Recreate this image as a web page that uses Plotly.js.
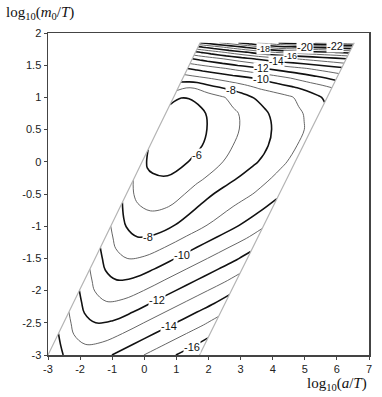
<!DOCTYPE html>
<html>
<head>
<meta charset="utf-8">
<script src="https://cdn.plot.ly/plotly-3.0.1.min.js"></script>
<style>
  html, body { margin: 0; padding: 0; background: #fff; }
  #chart { width: 382px; height: 397px; }
</style>
</head>
<body>
<div id="chart"></div>
<script>
// sheared sample grid: u runs across the band (left edge -> right edge), y is log10(m0/T)
const uVals = [0, 0.25, 0.5, 1, 1.5, 2, 2.5, 3, 3.5, 4, 4.4, 4.74];
const yVals = [-3, -2.5, -2, -1.5, -1, -0.5, -0.25, 0, 0.25, 0.5, 0.75, 1, 1.15, 1.3, 1.45, 1.6, 1.7, 1.78, 1.85];

// corners of the band
const leftEdgeX = [-3, 1.74];   // x at bottom, x at top
const rightEdgeX = [1.72, 6.54];

// levels, one row per yVals entry
const zGrid = [
  [-15.0, -14.45, -13.95, -13.5, -13.6, -14.0, -14.5, -15.0, -15.5, -16.0, -16.4, -16.8],
  [-13.5, -12.95, -12.45, -12.0, -12.1, -12.5, -13.0, -13.5, -14.0, -14.5, -14.9, -15.3],
  [-12.0, -11.45, -10.95, -10.5, -10.6, -11.0, -11.5, -12.0, -12.5, -13.0, -13.4, -13.8],
  [-10.5, -9.95, -9.45, -9.0, -9.1, -9.5, -10.0, -10.5, -11.0, -11.5, -11.9, -12.3],
  [-9.0, -8.45, -7.95, -7.5, -7.62, -8.05, -8.55, -9.05, -9.55, -10.05, -10.45, -10.9],
  [-7.65, -6.95, -6.6, -6.45, -6.6, -7.25, -7.8, -8.3, -8.65, -9.07, -9.45, -9.85],
  [-6.9, -6.5, -6.2, -6.07, -6.3, -6.82, -7.3, -7.8, -8.3, -8.75, -9.15, -9.5],
  [-6.38, -5.7, -5.5, -5.55, -6.08, -6.55, -7.0, -7.45, -7.9, -8.45, -8.9, -9.3],
  [-5.88, -5.5, -5.35, -5.4, -5.88, -6.4, -6.94, -7.4, -7.84, -8.35, -8.85, -9.2],
  [-5.7, -5.4, -5.3, -5.45, -5.98, -6.48, -6.98, -7.48, -7.98, -8.45, -8.85, -9.25],
  [-5.75, -5.55, -5.5, -5.75, -6.28, -6.75, -7.25, -7.82, -8.32, -8.77, -9.15, -9.55],
  [-6.2, -6.02, -6.05, -6.4, -6.9, -7.45, -8.05, -8.45, -8.8, -9.3, -9.8, -10.2],
  [-7.33, -7.02, -7.05, -7.7, -8.15, -8.6, -9.1, -9.45, -9.85, -10.3, -10.65, -11.0],
  [-8.45, -8.63, -8.8, -9.16, -9.52, -9.87, -10.26, -10.72, -11.17, -11.63, -11.99, -12.3],
  [-10.0, -10.21, -10.43, -10.85, -11.28, -11.7, -12.12, -12.5, -12.87, -13.25, -13.55, -13.8],
  [-12.0, -12.27, -12.53, -13.06, -13.6, -14.13, -14.6, -14.91, -15.22, -15.54, -15.79, -16.0],
  [-13.8, -14.14, -14.48, -15.16, -15.84, -16.52, -17.08, -17.34, -17.6, -17.86, -18.07, -18.25],
  [-15.75, -16.15, -16.55, -17.35, -18.14, -18.94, -19.58, -19.83, -20.08, -20.33, -20.53, -20.7],
  [-18.0, -18.43, -18.85, -19.7, -20.55, -21.4, -22.13, -22.55, -22.97, -23.38, -23.72, -24.0]
];

const xTickVals = [-3, -2, -1, 0, 1, 2, 3, 4, 5, 6, 7];
const xTickText = ['-3', '-2', '-1', '0', '1', '2', '3', '4', '5', '6', '7'];
const yTickVals = [-3, -2.5, -2, -1.5, -1, -0.5, 0, 0.5, 1, 1.5, 2];
const yTickText = ['-3', '-2.5', '-2', '-1.5', '-1', '-0.5', '0', '0.5', '1', '1.5', '2'];

// contour labels, placed where the reference puts them (crowded top ones nudged apart)
const labelText = ['-6', '-8', '-8', '-10', '-10', '-12', '-12', '-14', '-14', '-16', '-16', '-18', '-20', '-22'];
const labelX = [1.64, 0.13, 2.7, 1.17, 3.62, 0.39, 3.66, 0.76, 4.12, 1.48, 4.55, 3.7, 5.0, 5.95];
const labelY = [0.1, -1.16, 1.11, -1.45, 1.285, -2.15, 1.455, -2.55, 1.56, -2.88, 1.645, 1.745, 1.78, 1.805];
const labelSize = [11, 11, 11, 11, 11, 11, 10, 11, 10, 11, 9, 9, 11, 11];

// map the band grid into plot coordinates
const yLo = yVals[0], yHi = yVals[yVals.length - 1], uMax = uVals[uVals.length - 1];
const gridX = yVals.map(y => {
  const t = (y - yLo) / (yHi - yLo);
  const xl = leftEdgeX[0] + (leftEdgeX[1] - leftEdgeX[0]) * t;
  const xr = rightEdgeX[0] + (rightEdgeX[1] - rightEdgeX[0]) * t;
  return uVals.map(u => xl + (xr - xl) * u / uMax);
});
const gridY = yVals.map(y => uVals.map(() => y));

const hiddenAxis = {
  showgrid: false, showticklabels: 'none', minorgridcount: 0, smoothing: 0,
  title: { text: '' }
};

const band = {
  type: 'carpet',
  carpet: 'band',
  a: uVals,
  b: yVals,
  x: gridX,
  y: gridY,
  aaxis: Object.assign({}, hiddenAxis, {
    startline: true, endline: true,
    startlinecolor: '#b4b4b4', endlinecolor: '#b4b4b4',
    startlinewidth: 1.2, endlinewidth: 1.2
  }),
  baxis: Object.assign({}, hiddenAxis, { startline: false, endline: false })
};

const majorLines = {
  type: 'contourcarpet',
  carpet: 'band',
  a: uVals, b: yVals, z: zGrid,
  autocontour: false,
  contours: { start: -22, end: -6, size: 2, coloring: 'none', showlabels: false },
  line: { color: '#111', width: 1.6, smoothing: 1 },
  showscale: false,
  hoverinfo: 'skip'
};

const minorLines = {
  type: 'contourcarpet',
  carpet: 'band',
  a: uVals, b: yVals, z: zGrid,
  autocontour: false,
  contours: { start: -23, end: -7, size: 2, coloring: 'none', showlabels: false },
  line: { color: '#555', width: 0.9, smoothing: 1 },
  showscale: false,
  hoverinfo: 'skip'
};

const titleFont = { family: 'Liberation Serif, Times New Roman, serif', size: 15, color: '#111' };
const labelFamily = 'Liberation Sans, Arial, sans-serif';

const contourLabels = labelText.map((t, i) => ({
  text: t, x: labelX[i], y: labelY[i], xref: 'x', yref: 'y',
  showarrow: false, bgcolor: '#fff', borderpad: 0,
  font: { family: labelFamily, size: labelSize[i], color: '#111' }
}));

const layout = {
  width: 382,
  height: 397,
  margin: { l: 48, r: 13, t: 33, b: 42 },
  paper_bgcolor: '#fff',
  plot_bgcolor: '#fff',
  showlegend: false,
  font: { family: labelFamily, size: 11, color: '#222' },
  xaxis: {
    range: [-3, 7], tickvals: xTickVals, ticktext: xTickText,
    ticks: 'outside', ticklen: 3, tickcolor: '#444',
    showline: true, mirror: true, linecolor: '#444', linewidth: 1.5,
    showgrid: false, zeroline: false
  },
  yaxis: {
    range: [-3, 2], tickvals: yTickVals, ticktext: yTickText,
    ticks: 'outside', ticklen: 3, tickcolor: '#444',
    showline: true, mirror: true, linecolor: '#444', linewidth: 1.5,
    showgrid: false, zeroline: false
  },
  annotations: contourLabels.concat([
    {
      text: 'log<sub>10</sub>(<i>a</i>/<i>T</i>)', xref: 'paper', yref: 'paper',
      x: 1, y: -0.09, xanchor: 'right', yanchor: 'middle', showarrow: false, font: titleFont
    },
    {
      text: 'log<sub>10</sub>(<i>m</i><sub>0</sub>/<i>T</i>)', xref: 'paper', yref: 'paper',
      x: -0.136, y: 1.062, xanchor: 'left', yanchor: 'middle', showarrow: false, font: titleFont
    }
  ])
};

Plotly.newPlot('chart', [band, minorLines, majorLines], layout, { displayModeBar: false, staticPlot: true });
</script>
</body>
</html>
